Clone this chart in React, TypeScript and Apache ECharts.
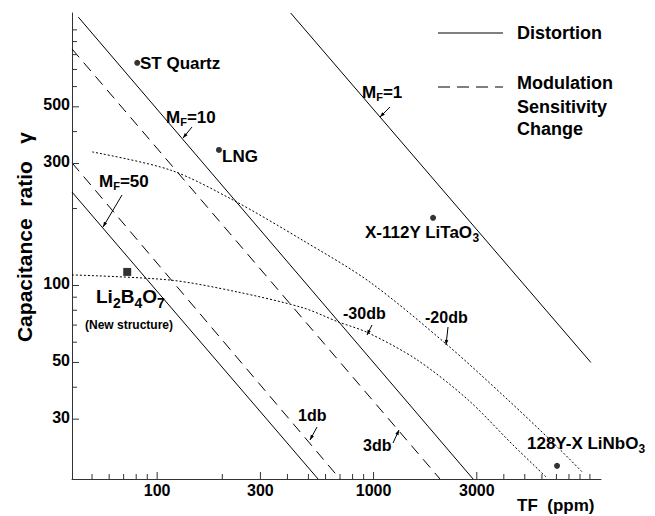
import React, { useEffect, useRef } from 'react';
import * as echarts from 'echarts';

// Axis extents (TF in ppm, capacitance ratio gamma)
const X_MIN = 40.4;
const X_MAX = 11250;
const Y_MIN = 17.5;
const Y_MAX = 1164;

// Tick values
const xMajorTicks = [100, 300, 1000, 3000];
const xMinorTicks = [50, 60, 70, 80, 90, 200, 400, 500, 600, 700, 800, 900, 4000, 5000, 6000, 7000, 8000, 9000, 10000];
const yMajorTicks = [30, 50, 100, 300, 500];
const yMinorTicks = [40, 60, 70, 80, 90, 200, 400, 600, 700, 800, 900, 1000];

// Distortion lines (solid): [TF, gamma]
const distortionMF1 = [[414, 1164], [10100, 50]];
const distortionMF10 = [[43.2, 1122], [2884, 17.5]];
const distortionMF50 = [[40.4, 232], [554, 17.5]];

// Modulation sensitivity change (dashed)
const modulation1db = [[40.4, 302], [700, 17.5]];
const modulation3db = [[40.4, 842], [2028, 17.5]];

// Dotted level curves
const level20db = [[50.1, 333], [115, 283], [224, 216], [472, 150], [964, 103], [2188, 58.6], [4178, 35.7], [6745, 24.3], [9180, 18.7]];
const level30db = [[40.4, 110], [115, 105], [234, 94.4], [472, 81.8], [685, 72.1], [944, 65.3], [1589, 51.2], [2735, 35.7], [4406, 23.8], [6324, 17.7]];

// Materials
const dotMaterials = ['ST Quartz', 'LNG', 'X-112Y LiTaO3', '128Y-X LiNbO3'];
const dotTF = [80.9, 193, 1884, 7047];
const dotGamma = [743, 339, 184, 19.7];
const squareMaterials = ['Li2B4O7'];
const squareTF = [72.7];
const squareGamma = [113];

const FONT = "'Liberation Sans Narrow', 'Liberation Sans', Arial, sans-serif";

let measureCtx: CanvasRenderingContext2D | null = null;
function measure(s: string, size: number) {
  if (!measureCtx) measureCtx = document.createElement('canvas').getContext('2d');
  if (!measureCtx) return s.length * size * 0.55;
  measureCtx.font = `bold ${size}px ${FONT}`;
  return measureCtx.measureText(s).width;
}

function txt(x: number, y: number, s: string, size = 17, align = 'left') {
  return {
    type: 'text', x, y, silent: true, z: 10,
    style: { text: s, fill: '#000', fontSize: size, fontWeight: 'bold', fontFamily: FONT, align, verticalAlign: 'middle' },
  };
}

// parts: [text, isSubscript]
function subTxt(x: number, y: number, parts: [string, boolean][], size = 17, subSize = 11, drop = 6) {
  const children: any[] = [];
  let cx = x;
  parts.forEach(([s, sub]) => {
    const fs = sub ? subSize : size;
    children.push({
      type: 'text', x: cx, y: sub ? y + drop : y, silent: true,
      style: { text: s, fill: '#000', fontSize: fs, fontWeight: 'bold', fontFamily: FONT, align: 'left', verticalAlign: 'middle' },
    });
    cx += measure(s, fs);
  });
  return { type: 'group', silent: true, z: 10, children };
}

function arrow(x0: number, y0: number, x1: number, y1: number) {
  const dx = x1 - x0, dy = y1 - y0;
  const L = Math.sqrt(dx * dx + dy * dy) || 1;
  const ux = dx / L, uy = dy / L;
  const hl = 5, hw = 1.8;
  const bx = x1 - ux * hl, by = y1 - uy * hl;
  return {
    type: 'group', silent: true, z: 10,
    children: [
      { type: 'line', shape: { x1: x0, y1: y0, x2: x1, y2: y1 }, style: { stroke: '#000', lineWidth: 1 } },
      { type: 'polygon', shape: { points: [[x1, y1], [bx - uy * hw, by + ux * hw], [bx + uy * hw, by - ux * hw]] }, style: { fill: '#000' } },
    ],
  };
}

function tickSeries(values: number[], major: boolean, horizontal: boolean) {
  return {
    type: 'custom',
    coordinateSystem: 'cartesian2d',
    silent: true,
    z: 5,
    clip: false,
    data: values.map((v) => (horizontal ? [v, Y_MIN] : [X_MIN, v])),
    encode: { x: 0, y: 1 },
    renderItem: (params: any, api: any) => {
      const xv = api.value(0);
      const yv = api.value(1);
      const p = api.coord([xv, yv]);
      const len = major ? 7 : 5;
      const children: any[] = [];
      if (horizontal) {
        children.push({ type: 'line', shape: { x1: p[0], y1: p[1], x2: p[0], y2: p[1] - len }, style: { stroke: '#333', lineWidth: 1 } });
        if (major) children.push({ type: 'text', x: p[0], y: p[1] + 11, style: { text: String(xv), align: 'center', verticalAlign: 'middle', fontSize: 16, fontWeight: 'bold', fontFamily: FONT, fill: '#000' } });
      } else {
        children.push({ type: 'line', shape: { x1: p[0], y1: p[1], x2: p[0] + len, y2: p[1] }, style: { stroke: '#333', lineWidth: 1 } });
        if (major) children.push({ type: 'text', x: p[0] - 2, y: p[1] - 2, style: { text: String(yv), align: 'right', verticalAlign: 'middle', fontSize: 16, fontWeight: 'bold', fontFamily: FONT, fill: '#000' } });
      }
      return { type: 'group', children };
    },
  };
}

function lineSeries(name: string, data: number[][], type: any, smooth: any = false) {
  return {
    type: 'line', name, data, showSymbol: false, symbol: 'none', smooth, silent: true,
    lineStyle: { color: '#000', width: 1, type },
    z: 3,
  };
}

export default function App() {
  const ref = useRef<HTMLDivElement>(null);
  useEffect(() => {
    if (!ref.current) return;
    const chart = echarts.init(ref.current, null, { renderer: 'svg' });
    const option: any = {
      animation: false,
      backgroundColor: '#fff',
      grid: { left: 72, right: 54, top: 13, bottom: 37 },
      xAxis: {
        type: 'log', logBase: 10, min: X_MIN, max: X_MAX,
        axisLine: { show: true, lineStyle: { color: '#333', width: 1 } },
        axisTick: { show: false }, axisLabel: { show: false }, splitLine: { show: false },
      },
      yAxis: {
        type: 'log', logBase: 10, min: Y_MIN, max: Y_MAX,
        axisLine: { show: true, lineStyle: { color: '#333', width: 1 } },
        axisTick: { show: false }, axisLabel: { show: false }, splitLine: { show: false },
      },
      series: [
        lineSeries('MF=1', distortionMF1, 'solid'),
        lineSeries('MF=10', distortionMF10, 'solid'),
        lineSeries('MF=50', distortionMF50, 'solid'),
        lineSeries('1db', modulation1db, [11, 7]),
        lineSeries('3db', modulation3db, [11, 7]),
        lineSeries('-20db', level20db, [2, 2], 0.3),
        lineSeries('-30db', level30db, [2, 2], 0.3),
        {
          type: 'scatter', name: 'materials', symbol: 'circle', symbolSize: 6, silent: true,
          itemStyle: { color: '#000' },
          data: dotMaterials.map((n, i) => ({ name: n, value: [dotTF[i], dotGamma[i]] })),
          z: 6,
        },
        {
          type: 'scatter', name: 'new', symbol: 'rect', symbolSize: 8, silent: true,
          itemStyle: { color: '#000' },
          data: squareMaterials.map((n, i) => ({ name: n, value: [squareTF[i], squareGamma[i]] })),
          z: 6,
        },
        tickSeries(xMajorTicks, true, true),
        tickSeries(xMinorTicks, false, true),
        tickSeries(yMajorTicks, true, false),
        tickSeries(yMinorTicks, false, false),
      ],
      graphic: [
        // legend
        { type: 'line', shape: { x1: 438, y1: 33, x2: 503, y2: 33 }, style: { stroke: '#000', lineWidth: 1 }, silent: true },
        txt(517, 33, 'Distortion', 18),
        { type: 'line', shape: { x1: 438, y1: 87, x2: 503, y2: 87 }, style: { stroke: '#000', lineWidth: 1, lineDash: [12, 7] }, silent: true },
        txt(517, 83, 'Modulation', 18),
        txt(517, 107, 'Sensitivity', 18),
        txt(517, 129, 'Change', 18),
        // material labels
        txt(140, 63, 'ST Quartz', 17),
        txt(222, 156, 'LNG', 17),
        subTxt(365, 232, [['X-112Y LiTaO', false], ['3', true]], 17, 12, 6),
        subTxt(527, 443, [['128Y-X LiNbO', false], ['3', true]], 17, 12, 6),
        subTxt(96, 296, [['Li', false], ['2', true], ['B', false], ['4', true], ['O', false], ['7', true]], 19, 14, 7),
        txt(85, 325, '(New structure)', 12),
        // line labels
        subTxt(166, 117, [['M', false], ['F', true], ['=10', false]], 17, 11, 5),
        subTxt(99, 181, [['M', false], ['F', true], ['=50', false]], 17, 11, 5),
        subTxt(362, 92, [['M', false], ['F', true], ['=1', false]], 17, 11, 5),
        txt(343, 313, '-30db', 16),
        txt(425, 317, '-20db', 16),
        txt(298, 415, '1db', 16),
        txt(363, 445, '3db', 16),
        arrow(192, 127, 183, 138),
        arrow(122, 195, 103, 227),
        arrow(390, 107, 380, 117),
        arrow(372, 325, 367, 335),
        arrow(448, 327, 446, 345),
        arrow(317, 427, 310, 440),
        arrow(393, 443, 399, 430),
        // axis titles
        {
          type: 'text', x: 24, y: 237, rotation: Math.PI / 2, silent: true,
          style: { text: 'Capacitance  ratio   γ', fill: '#000', fontSize: 21, fontWeight: 'bold', fontFamily: FONT, align: 'center', verticalAlign: 'middle' },
        },
        txt(517, 505, 'TF  (ppm)', 17),
      ],
    };
    chart.setOption(option);
    return () => chart.dispose();
  }, []);
  return <div ref={ref} style={{ position: 'fixed', left: 0, top: 0, width: 655, height: 516 }} />;
}
